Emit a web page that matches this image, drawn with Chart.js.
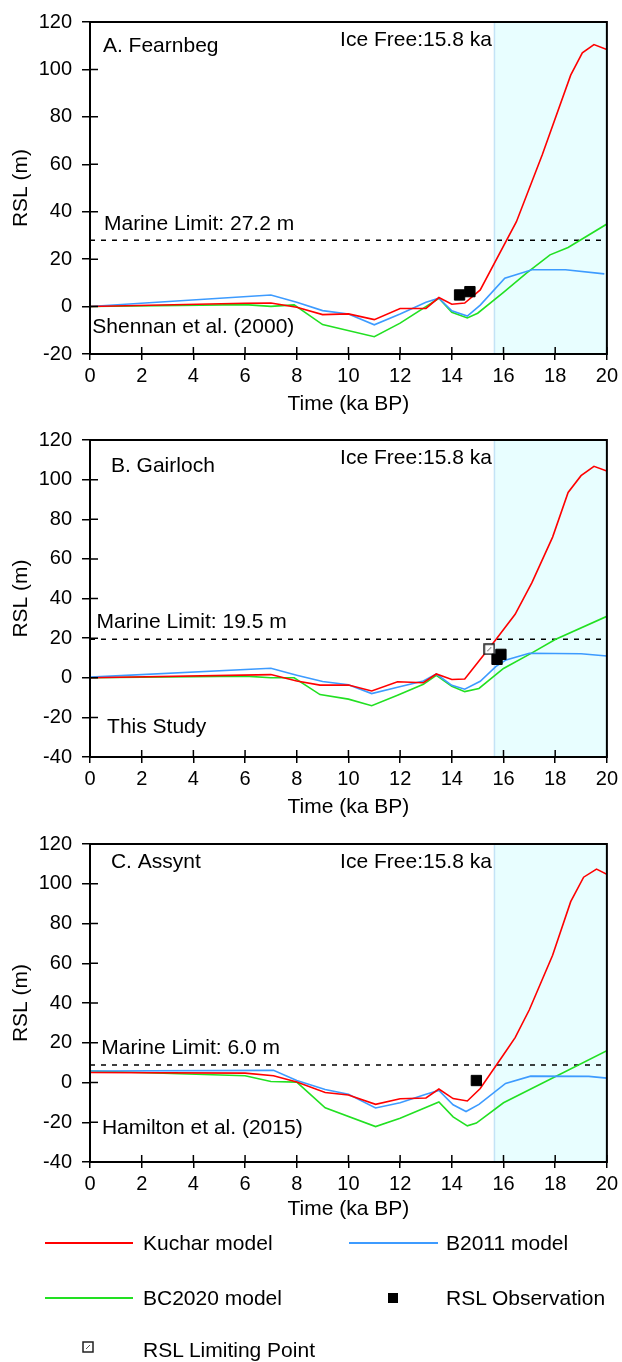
<!DOCTYPE html>
<html lang="en">
<head>
  <meta charset="UTF-8">
  <title>RSL models: Fearnbeg, Gairloch, Assynt</title>
  <script src="https://cdn.jsdelivr.net/npm/chart.js"></script>
  <style>
    body { margin: 0; background: #fff; font-family: "Liberation Sans", Arial, sans-serif; }
    .panel { position: absolute; left: 0; }
    #legend { position: absolute; left: 0; top: 1220px; width: 622px; height: 142px; font-size: 21px; color: #000; }
    .item { position: absolute; height: 24px; line-height: 24px; white-space: nowrap; }
    .swatch { position: absolute; height: 2px; }
  </style>
</head>
<body>

  <canvas id="panelA" class="panel" width="622" height="420" style="top:0px"></canvas>
  <canvas id="panelB" class="panel" width="622" height="404" style="top:418px"></canvas>
  <canvas id="panelC" class="panel" width="622" height="400" style="top:822px"></canvas>

  <div id="legend">
    <div class="swatch" style="left:45px; top:22px; width:88px; background:#ff0000"></div>
    <div class="item" style="left:143px; top:11px">Kuchar model</div>
    <div class="swatch" style="left:349px; top:22px; width:89px; background:#3d9bff"></div>
    <div class="item" style="left:446px; top:11px">B2011 model</div>
    <div class="swatch" style="left:45px; top:77px; width:88px; background:#22e022"></div>
    <div class="item" style="left:143px; top:66px">BC2020 model</div>
    <div class="swatch" style="left:388px; top:73px; width:10px; height:10px; background:#000"></div>
    <div class="item" style="left:446px; top:66px">RSL Observation</div>
    <canvas id="limitIcon" width="12" height="12" style="position:absolute; left:82px; top:121px"></canvas>
    <div class="item" style="left:143px; top:118px">RSL Limiting Point</div>
  </div>

  <script>
    // tick labels
    const timeTicks = [0, 2, 4, 6, 8, 10, 12, 14, 16, 18, 20];
    const rslTicksA = [-20, 0, 20, 40, 60, 80, 100, 120];
    const rslTicksBC = [-40, -20, 0, 20, 40, 60, 80, 100, 120];
    const iceFree = 15.65;

    // A. Fearnbeg
    const kucharTimeA = [0, 6, 7, 8, 9, 10, 11, 12, 13, 13.5, 14, 14.5, 15.1, 16.5, 17.5, 18.6, 19.05, 19.5, 20];
    const kucharRslA  = [0, 1.4, 1.5, -0.3, -3.4, -3.1, -5.5, -0.8, -0.8, 3.8, 1.0, 1.5, 7.0, 35.8, 64, 97.6, 107, 110.5, 108.4];
    const b2011TimeA  = [0, 7, 8, 9, 10, 11, 12, 13, 13.5, 14, 14.6, 15.1, 16.05, 17.1, 18.4, 19.9];
    const b2011RslA   = [0, 4.9, 1.8, -1.7, -3.1, -7.7, -3.1, 1.8, 3.5, -1.8, -4.0, 0.6, 12, 15.5, 15.5, 13.8];
    const bc2020TimeA = [0, 6, 7, 7.9, 9, 11, 12, 13.5, 14, 14.6, 15, 16, 16.9, 17.8, 18.5, 20];
    const bc2020RslA  = [0, 0.8, 0.1, 0.7, -7.6, -12.7, -7.0, 3.5, -2.4, -4.8, -2.8, 6, 14.2, 21.8, 24.9, 34.8];
    const obsTimeA = [14.3, 14.7];
    const obsRslA  = [4.9, 6.3];
    const marineA = 28;

    // B. Gairloch
    const kucharTimeB = [0, 7, 8, 8.9, 10, 10.9, 11.9, 12.9, 13.4, 14, 14.5, 15.05, 15.7, 16.45, 17.1, 17.9, 18.5, 19, 19.5, 20];
    const kucharRslB  = [0, 1.6, -1.6, -3.7, -3.7, -6.7, -2.0, -2.5, 1.9, -0.9, -0.6, 8.5, 19.2, 32, 48, 71, 93.5, 102, 106.7, 104.3];
    const b2011TimeB  = [0, 7, 8, 9, 10, 10.9, 11.9, 12.9, 13.4, 14, 14.5, 15.1, 15.7, 16.1, 17, 19, 20];
    const b2011RslB   = [0.3, 4.8, 1.3, -1.9, -3.5, -8.0, -4.8, -1.6, 1.9, -3.8, -5.8, -1.8, 5.6, 9.0, 12.4, 12.1, 11.0];
    const bc2020TimeB = [0, 6, 7, 7.9, 8.9, 10, 10.9, 11.9, 12.9, 13.4, 14, 14.5, 15.05, 16, 17.05, 18, 20];
    const bc2020RslB  = [0, 0.8, 0, 0, -8.5, -10.8, -14.1, -8.8, -3.3, 1.2, -4.3, -7.0, -5.4, 4.7, 12.2, 19.3, 31];
    const obsTimeB = [15.75, 15.9];
    const obsRslB  = [9.3, 11.8];
    const limTimeB = [15.45];
    const limRslB  = [14.4];
    const marineB = 19.4;

    // C. Assynt
    const kucharTimeC = [0, 6, 7.1, 8, 9.1, 10, 11.05, 12, 13, 13.5, 14.05, 14.6, 15.1, 16, 16.45, 17, 17.9, 18.6, 19.1, 19.6, 20];
    const kucharRslC  = [5.0, 4.7, 3.4, 0.2, -5.0, -6.3, -11.0, -8.2, -7.8, -3.3, -8.1, -9.3, -3.0, 14, 22.6, 36.6, 64, 91, 103.3, 107.4, 104.8];
    const b2011TimeC  = [0, 7.1, 8, 9.1, 10, 11.05, 12, 13, 13.5, 14.05, 14.55, 15.05, 16.08, 17.05, 19.3, 20];
    const b2011RslC   = [5.8, 6.1, 1.0, -3.5, -5.9, -12.8, -10.2, -5.9, -4.0, -11.2, -14.6, -11.0, -0.5, 3.2, 3.1, 2.2];
    const bc2020TimeC = [0, 6, 7, 8, 9.1, 11.05, 12, 13.5, 14.05, 14.6, 14.95, 16, 20];
    const bc2020RslC  = [5.8, 3.4, 0.5, 0.2, -12.7, -22.2, -18, -9.8, -17.3, -21.8, -20.4, -10.2, 16];
    const obsTimeC = [14.95];
    const obsRslC  = [1.0];
    const marineC = 8.8;

    const RED = '#ff0000', BLUE = '#3d9bff', GREEN = '#22e022';

    Chart.defaults.font.family = '"Liberation Sans", Arial, sans-serif';
    Chart.defaults.font.size = 20;
    Chart.defaults.color = '#000';

    // open square with a small diagonal, used for the limiting point
    function drawLimitIcon(c) {
      const g = c.getContext('2d');
      g.fillStyle = '#fff';
      g.fillRect(1, 1, 10, 10);
      g.strokeStyle = '#222';
      g.lineWidth = 1.5;
      g.strokeRect(1, 1, 10, 10);
      g.strokeStyle = '#555';
      g.lineWidth = 1;
      g.beginPath();
      g.moveTo(4, 8);
      g.lineTo(8, 4);
      g.stroke();
    }
    const limitPoint = document.createElement('canvas');
    limitPoint.width = 12;
    limitPoint.height = 12;
    drawLimitIcon(limitPoint);
    drawLimitIcon(document.getElementById('limitIcon'));

    const pts = (xs, ys) => xs.map((x, i) => ({ x: x, y: ys[i] }));

    function lineSet(label, xs, ys, color) {
      return { label: label, data: pts(xs, ys), borderColor: color, borderWidth: 1.6,
               pointRadius: 0, fill: false, tension: 0 };
    }

    // ice-free shading behind the lines
    const shadePlugin = {
      id: 'shade',
      beforeDatasetsDraw(chart) {
        const { ctx, chartArea: a, scales: { x } } = chart;
        const x0 = x.getPixelForValue(iceFree);
        ctx.save();
        ctx.fillStyle = '#e8feff';
        ctx.fillRect(x0, a.top, a.right - x0, a.bottom - a.top);
        ctx.strokeStyle = '#c4e3f6';
        ctx.lineWidth = 1.5;
        ctx.beginPath();
        ctx.moveTo(x0, a.top);
        ctx.lineTo(x0, a.bottom);
        ctx.stroke();
        ctx.restore();
      }
    };

    // box frame, inner half of the ticks, and the panel texts
    const framePlugin = {
      id: 'frame',
      afterDatasetsDraw(chart, args, opts) {
        const { ctx, chartArea: a, scales: { x, y } } = chart;
        ctx.save();
        ctx.strokeStyle = '#000';
        ctx.lineWidth = 1.5;
        ctx.beginPath();
        x.ticks.forEach(t => {
          const px = x.getPixelForValue(t.value);
          ctx.moveTo(px, a.bottom);
          ctx.lineTo(px, a.bottom - 7);
        });
        y.ticks.forEach(t => {
          const py = y.getPixelForValue(t.value);
          ctx.moveTo(a.left, py);
          ctx.lineTo(a.left + 8, py);
        });
        ctx.stroke();
        ctx.lineWidth = 2;
        ctx.strokeRect(a.left, a.top, a.right - a.left, a.bottom - a.top);

        ctx.fillStyle = '#000';
        ctx.font = '21px "Liberation Sans", Arial, sans-serif';
        ctx.textBaseline = 'middle';
        (opts.notes || []).forEach(n => {
          ctx.textAlign = n.align || 'left';
          ctx.fillText(n.text, x.getPixelForValue(n.x), y.getPixelForValue(n.y));
        });
        ctx.restore();
      }
    };

    function makePanel(id, p) {
      const datasets = [];
      datasets.push({ label: 'RSL Observation', data: pts(p.obsT, p.obsR), pointStyle: 'rect',
                      pointRadius: 7.3, backgroundColor: '#000', borderColor: '#000', borderWidth: 1, showLine: false });
      if (p.limT) {
        datasets.push({ label: 'RSL Limiting Point', data: pts(p.limT, p.limR), pointStyle: limitPoint,
                        pointRadius: 6, showLine: false });
      }
      datasets.push(lineSet('Kuchar model', p.kT, p.kR, RED));
      datasets.push(lineSet('B2011 model', p.bT, p.bR, BLUE));
      datasets.push(lineSet('BC2020 model', p.gT, p.gR, GREEN));
      const marine = lineSet('Marine Limit', [0, 20], [p.marine, p.marine], '#000');
      marine.borderDash = [5, 6];
      marine.borderWidth = 1.5;
      datasets.push(marine);

      new Chart(document.getElementById(id), {
        type: 'line',
        data: { datasets: datasets },
        options: {
          responsive: false,
          animation: false,
          layout: { padding: { top: p.padTop, right: 15, left: 0, bottom: 0 } },
          plugins: {
            legend: { display: false },
            tooltip: { enabled: false },
            frame: { notes: p.notes }
          },
          scales: {
            x: {
              type: 'linear', min: 0, max: 20,
              afterBuildTicks: s => { s.ticks = timeTicks.map(v => ({ value: v })); },
              afterFit: s => { s.height = p.axisH; },
              grid: { drawOnChartArea: false, drawTicks: true, tickLength: 6, color: '#000', lineWidth: 1.5 },
              border: { display: false },
              ticks: { padding: 4, maxRotation: 0, font: { size: 20 } },
              title: { display: true, text: 'Time (ka BP)', font: { size: 21 }, padding: { top: 0, bottom: p.titlePad } }
            },
            y: {
              type: 'linear', min: p.yTicks[0], max: 120,
              afterBuildTicks: s => { s.ticks = p.yTicks.map(v => ({ value: v })); },
              afterFit: s => { s.width = 90; },
              grid: { drawOnChartArea: false, drawTicks: true, tickLength: 8, color: '#000', lineWidth: 1.5 },
              border: { display: false },
              ticks: { padding: 10, font: { size: 20 } },
              title: { display: true, text: 'RSL (m)', font: { size: 21 }, padding: { top: 9, bottom: 0 } }
            }
          }
        },
        plugins: [shadePlugin, framePlugin]
      });
    }

    makePanel('panelA', {
      kT: kucharTimeA, kR: kucharRslA, bT: b2011TimeA, bR: b2011RslA, gT: bc2020TimeA, gR: bc2020RslA,
      obsT: obsTimeA, obsR: obsRslA, marine: marineA, yTicks: rslTicksA,
      padTop: 22, axisH: 66, titlePad: 3,
      notes: [
        { text: 'A. Fearnbeg', x: 0.5, y: 109.8 },
        { text: 'Ice Free:15.8 ka', x: 15.55, y: 112.3, align: 'right' },
        { text: 'Marine Limit: 27.2 m', x: 0.54, y: 34.8 },
        { text: 'Shennan et al. (2000)', x: 0.09, y: -8.8 }
      ]
    });

    makePanel('panelB', {
      kT: kucharTimeB, kR: kucharRslB, bT: b2011TimeB, bR: b2011RslB, gT: bc2020TimeB, gR: bc2020RslB,
      obsT: obsTimeB, obsR: obsRslB, limT: limTimeB, limR: limRslB, marine: marineB, yTicks: rslTicksBC,
      padTop: 7, axisH: 65, titlePad: 2,
      notes: [
        { text: 'B. Gairloch', x: 0.81, y: 106.7 },
        { text: 'Ice Free:15.8 ka', x: 15.55, y: 110.6, align: 'right' },
        { text: 'Marine Limit: 19.5 m', x: 0.25, y: 27.9 },
        { text: 'This Study', x: 0.66, y: -24.8 }
      ]
    });

    makePanel('panelC', {
      kT: kucharTimeC, kR: kucharRslC, bT: b2011TimeC, bR: b2011RslC, gT: bc2020TimeC, gR: bc2020RslC,
      obsT: obsTimeC, obsR: obsRslC, marine: marineC, yTicks: rslTicksBC,
      padTop: 6, axisH: 60, titlePad: 0,
      notes: [
        { text: 'C. Assynt', x: 0.81, y: 110.6 },
        { text: 'Ice Free:15.8 ka', x: 15.55, y: 110.6, align: 'right' },
        { text: 'Marine Limit: 6.0 m', x: 0.44, y: 17.3 },
        { text: 'Hamilton et al. (2015)', x: 0.46, y: -22.8 }
      ]
    });
  </script>
</body>
</html>
